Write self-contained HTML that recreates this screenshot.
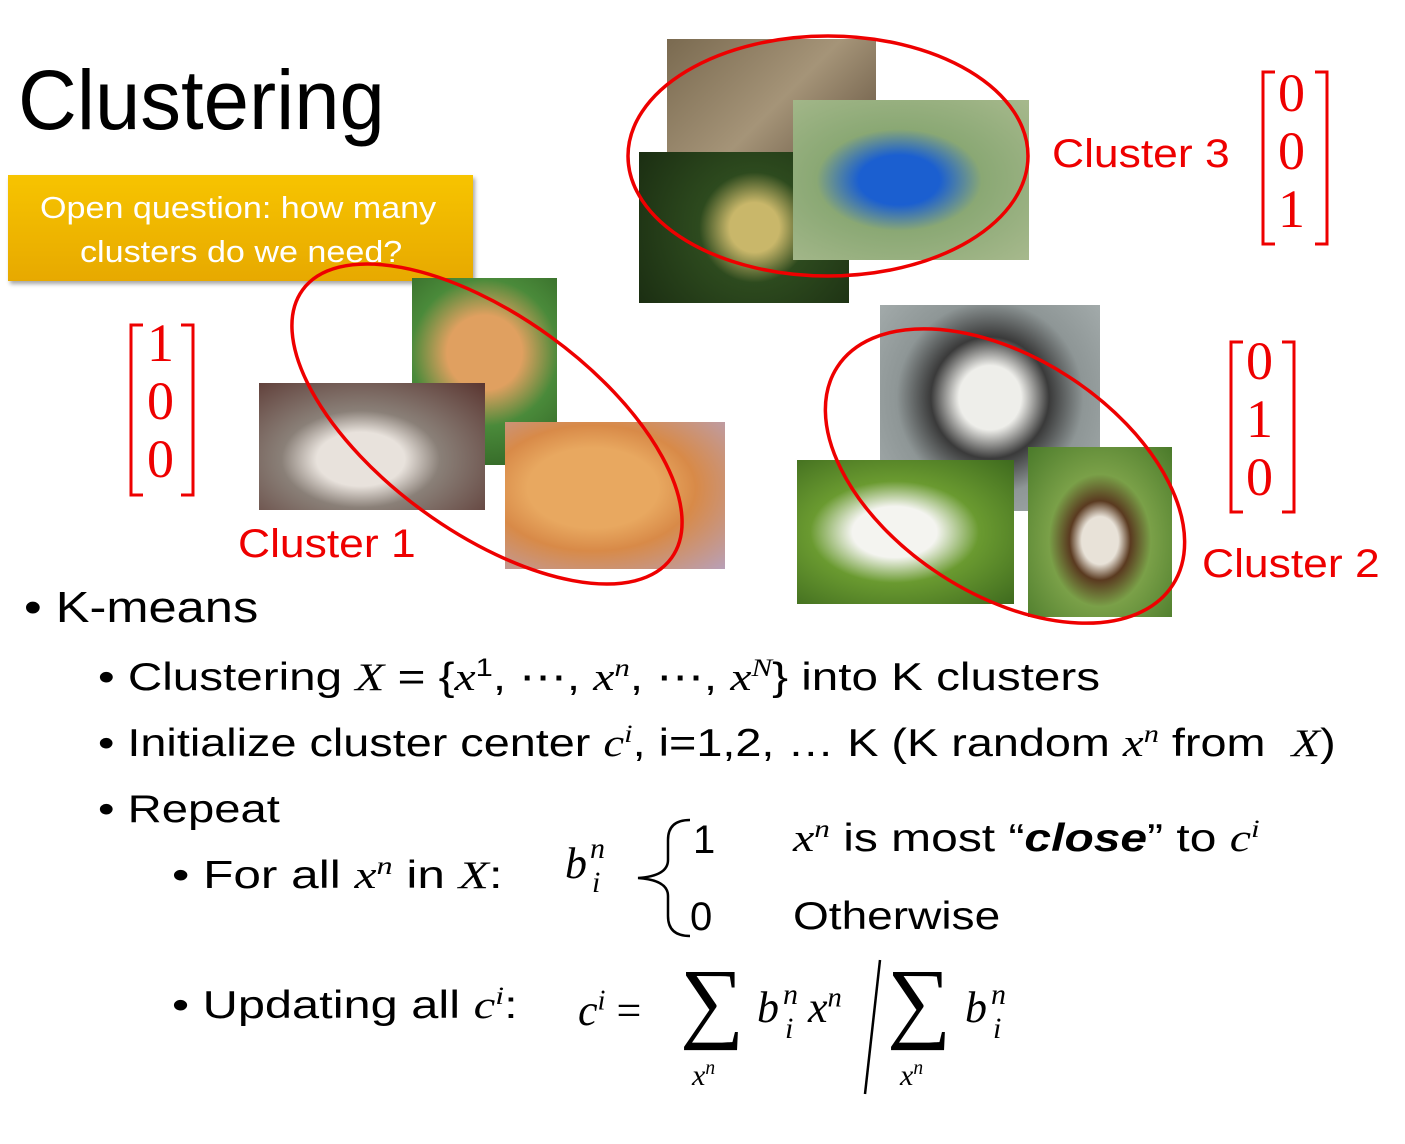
<!DOCTYPE html>
<html><head><meta charset="utf-8"><style>
body{margin:0;width:1405px;height:1144px;background:#fff;position:relative;overflow:hidden;font-family:"Liberation Sans",sans-serif;}
.a{position:absolute;white-space:nowrap;transform-origin:left center;}
.img{position:absolute;}
.m{font-family:"Liberation Serif",serif;font-style:italic;}
.r{color:#e00;}
sup,sub{font-size:65%;}
</style></head><body>
<div class="a" style="left:18px;top:52px;font-size:84px;transform:scaleX(0.97);">Clustering</div>
<div class="a" style="left:8px;top:175px;width:465px;height:106px;background:linear-gradient(#f7c400,#e7a900);box-shadow:2px 3px 4px rgba(0,0,0,.35);"></div>
<div class="a" style="left:40px;top:186px;color:#fff;font-size:31px;line-height:44px;transform:scaleX(1.1);">Open question: how many</div>
<div class="a" style="left:80px;top:230px;color:#fff;font-size:31px;line-height:44px;transform:scaleX(1.1);">clusters do we need?</div>

<div class="img" style="left:667px;top:39px;width:209px;height:141px;background:linear-gradient(135deg,#7a6a50,#a59478 50%,#5b4a38);"></div>
<div class="img" style="left:639px;top:152px;width:210px;height:151px;background:radial-gradient(circle at 55% 50%,#c9b76a 0 18%,#2d4a1e 40%,#1b2e12);"></div>
<div class="img" style="left:793px;top:100px;width:236px;height:160px;background:radial-gradient(ellipse at 45% 50%,#1b5fd0 0 22%,#8aa874 45%,#a7b98d);"></div>
<div class="img" style="left:412px;top:278px;width:145px;height:187px;background:radial-gradient(circle at 50% 40%,#e0a060 0 28%,#4a8a3a 55%,#2e5e22);"></div>
<div class="img" style="left:259px;top:383px;width:226px;height:127px;background:radial-gradient(ellipse at 45% 60%,#e8e2dc 0 25%,#8a8078 45%,#5a3530);"></div>
<div class="img" style="left:505px;top:422px;width:220px;height:147px;background:radial-gradient(ellipse at 40% 45%,#e8a860 0 35%,#d88a48 55%,#b8a0b8);"></div>
<div class="img" style="left:880px;top:305px;width:220px;height:206px;background:radial-gradient(ellipse at 50% 45%,#eeeeea 0 20%,#3a3a3a 38%,#8e9696 60%,#a8b0b0);"></div>
<div class="img" style="left:797px;top:460px;width:217px;height:144px;background:radial-gradient(ellipse at 45% 50%,#f4f4f0 0 25%,#6a9a30 50%,#3e6a1e);"></div>
<div class="img" style="left:1028px;top:447px;width:144px;height:170px;background:radial-gradient(ellipse at 50% 55%,#e8e2d8 0 18%,#5a3a20 30%,#7aa048 50%,#4a7a2a);"></div>

<svg class="img" style="left:0;top:0" width="1405" height="1144">
<g fill="none" stroke="#e00" stroke-width="3.5">
<ellipse cx="828" cy="156" rx="200" ry="120"/>
<ellipse cx="487" cy="424" rx="228" ry="108" transform="rotate(36 487 424)"/>
<ellipse cx="1005" cy="476" rx="200" ry="118" transform="rotate(33 1005 476)"/>
</g>
<g fill="none" stroke="#e00" stroke-width="3">
<path d="M1275 72h-12v172h12M1315 72h12v172h-12"/>
<path d="M143 325h-12v170h12M181 325h12v170h-12"/>
<path d="M1243 342h-12v170h12M1282 342h12v170h-12"/>
</g>
<path d="M690 820 q-22 0 -22 20 v20 q0 16 -30 18 q30 2 30 18 v20 q0 20 22 20" fill="none" stroke="#000" stroke-width="2.5"/>
<line x1="880" y1="960" x2="865" y2="1094" stroke="#000" stroke-width="2.5"/>
</svg>

<div class="a r" style="left:1052px;top:132px;font-size:40px;transform:scaleX(1.11);">Cluster 3</div>
<div class="a r" style="left:238px;top:522px;font-size:40px;transform:scaleX(1.11);">Cluster 1</div>
<div class="a r" style="left:1202px;top:542px;font-size:40px;transform:scaleX(1.11);">Cluster 2</div>
<div class="a r" style="left:1278px;top:64px;font-size:54px;line-height:58px;font-family:'Liberation Serif',serif;">0<br>0<br>1</div>
<div class="a r" style="left:147px;top:314px;font-size:54px;line-height:58px;font-family:'Liberation Serif',serif;">1<br>0<br>0</div>
<div class="a r" style="left:1246px;top:332px;font-size:54px;line-height:58px;font-family:'Liberation Serif',serif;">0<br>1<br>0</div>

<div class="a" style="left:24px;top:583px;font-size:44px;transform:scaleX(1.15);">• K-means</div>
<div class="a" style="left:98px;top:654px;font-size:39px;transform:scaleX(1.22);">• Clustering <span class="m">X</span> = {<span class="m">x</span><sup>1</sup>, ⋯, <span class="m">x<sup>n</sup></span>, ⋯, <span class="m">x<sup>N</sup></span>} into K clusters</div>
<div class="a" style="left:98px;top:720px;font-size:39px;transform:scaleX(1.2);">• Initialize cluster center <span class="m">c<sup>i</sup></span>, i=1,2, … K (K random <span class="m">x<sup>n</sup></span> from &nbsp;<span class="m">X</span>)</div>
<div class="a" style="left:98px;top:788px;font-size:39px;transform:scaleX(1.21);">• Repeat</div>
<div class="a" style="left:172px;top:852px;font-size:39px;transform:scaleX(1.27);">• For all <span class="m">x<sup>n</sup></span> in <span class="m">X</span>:</div>
<div class="a m" style="left:565px;top:838px;font-size:44px;">b</div>
<div class="a m" style="left:590px;top:832px;font-size:30px;">n</div>
<div class="a m" style="left:592px;top:866px;font-size:30px;">i</div>
<div class="a" style="left:693px;top:818px;font-size:40px;">1</div>
<div class="a" style="left:690px;top:895px;font-size:40px;">0</div>
<div class="a" style="left:793px;top:815px;font-size:39px;transform:scaleX(1.23);"><span class="m">x<sup>n</sup></span> is most “<b><i>close</i></b>” to <span class="m">c<sup>i</sup></span></div>
<div class="a" style="left:793px;top:895px;font-size:39px;transform:scaleX(1.18);">Otherwise</div>
<div class="a" style="left:172px;top:982px;font-size:39px;transform:scaleX(1.25);">• Updating all <span class="m">c<sup>i</sup></span>:</div>
<div class="a m" style="left:578px;top:985px;font-size:44px;">c<sup>i</sup> <span style="font-style:normal">=</span></div>
<div class="a" style="left:680px;top:950px;font-size:90px;font-family:'Liberation Serif',serif;">∑</div>
<div class="a m" style="left:692px;top:1058px;font-size:30px;">x<sup>n</sup></div>
<div class="a m" style="left:757px;top:982px;font-size:44px;">b</div>
<div class="a m" style="left:783px;top:978px;font-size:30px;">n</div>
<div class="a m" style="left:785px;top:1012px;font-size:30px;">i</div>
<div class="a m" style="left:808px;top:982px;font-size:44px;">x<sup>n</sup></div>
<div class="a" style="left:887px;top:950px;font-size:90px;font-family:'Liberation Serif',serif;">∑</div>
<div class="a m" style="left:900px;top:1058px;font-size:30px;">x<sup>n</sup></div>
<div class="a m" style="left:965px;top:982px;font-size:44px;">b</div>
<div class="a m" style="left:991px;top:978px;font-size:30px;">n</div>
<div class="a m" style="left:993px;top:1012px;font-size:30px;">i</div>
</body></html>
